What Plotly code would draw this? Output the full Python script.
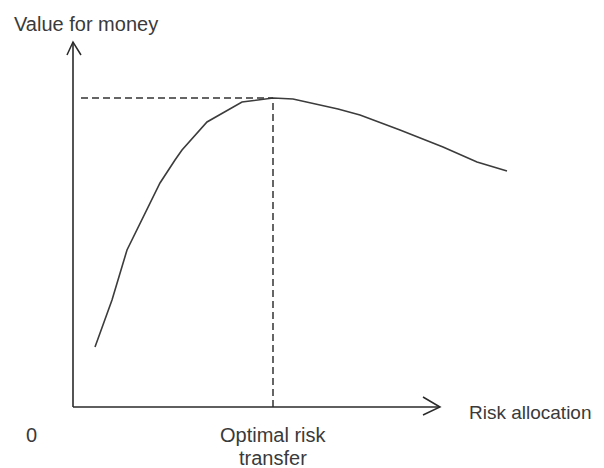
import plotly.graph_objects as go

# Data (units: axis distance from origin)
risk_allocation = [22, 39, 54, 70, 87, 102, 109, 134, 169, 200, 220, 265, 287, 327, 370, 404, 434]
value_for_money = [60, 107, 157, 190, 224, 247, 257, 285, 305, 309, 308, 298, 292, 277, 260, 245, 236]
optimal_x = 200
optimal_y = 309
x_axis_end = 367
y_axis_end = 365

axis_color = "#2a2a2a"
text_color = "#3a3a3a"
font_family = "Liberation Sans, Arial, sans-serif"

fig = go.Figure()

# Curve
fig.add_trace(go.Scatter(x=risk_allocation, y=value_for_money, mode="lines",
                         line=dict(color="#3c3c3c", width=1.6), hoverinfo="skip"))

# Dashed guide lines
fig.add_trace(go.Scatter(x=[8, optimal_x], y=[optimal_y, optimal_y], mode="lines",
                         line=dict(color="#333333", width=1.5, dash="7px,4px"), hoverinfo="skip"))
fig.add_trace(go.Scatter(x=[optimal_x, optimal_x], y=[0, optimal_y], mode="lines",
                         line=dict(color="#333333", width=1.5, dash="7px,4px"), hoverinfo="skip"))

shapes = []
# Axes
shapes.append(dict(type="line", x0=0, y0=0, x1=x_axis_end, y1=0, line=dict(color=axis_color, width=1.6)))
shapes.append(dict(type="line", x0=0, y0=0, x1=0, y1=y_axis_end, line=dict(color=axis_color, width=1.6)))
# Arrow heads (open chevrons)
shapes.append(dict(type="path",
                   path=f"M {x_axis_end-17},10 L {x_axis_end},0 L {x_axis_end-17},-8",
                   line=dict(color=axis_color, width=1.5)))
shapes.append(dict(type="path",
                   path=f"M -6,{y_axis_end-13} L 0,{y_axis_end} L 8,{y_axis_end-13}",
                   line=dict(color=axis_color, width=1.5)))

annotations = [
    dict(x=-60, y=383, text="Value for money", xanchor="left", yanchor="middle", showarrow=False, size=20),
    dict(x=395, y=-5, text="Risk allocation", xanchor="left", yanchor="middle", showarrow=False, size=19),
    dict(x=-42, y=-28, text="0", xanchor="center", yanchor="middle", showarrow=False, size=20),
    dict(x=optimal_x, y=-28, text="Optimal risk", xanchor="center", yanchor="middle", showarrow=False, size=20),
    dict(x=optimal_x, y=-51, text="transfer", xanchor="center", yanchor="middle", showarrow=False, size=20),
]
for a in annotations:
    a["font"] = dict(family=font_family, size=a.pop("size"), color=text_color)
    a["xref"] = "x"
    a["yref"] = "y"
    a["borderpad"] = 0

# The page body has an 8px margin, so the figure is 8px smaller and its ranges start 8px later.
fig.update_layout(
    width=596, height=460,
    margin=dict(l=0, r=0, t=0, b=0),
    paper_bgcolor="white", plot_bgcolor="white",
    showlegend=False,
    shapes=shapes,
    annotations=annotations,
    xaxis=dict(range=[-65, 531], visible=False, fixedrange=True),
    yaxis=dict(range=[-61, 399], visible=False, fixedrange=True),
)

fig.write_html("out.html", config={"displayModeBar": False})
